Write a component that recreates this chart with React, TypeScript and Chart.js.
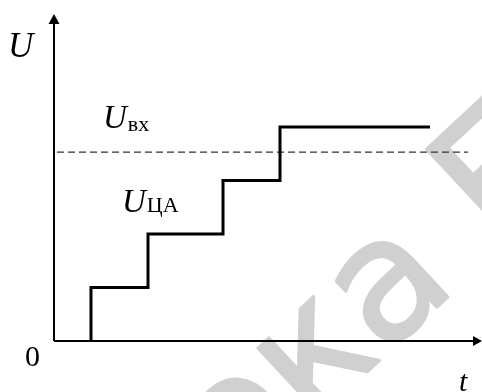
import React, { useEffect, useRef } from "react";
import { Chart, registerables } from "chart.js";

Chart.register(...registerables);

// ---- data (time in arbitrary units, voltage in quantisation steps) ----
const stepTimes = [3.7, 9.4, 16.9, 22.6];
const stepLevels = [1, 2, 3, 4];
const startLevel = 0;
const endTime = 37.6;
const inputLevel = 3.53;
const inputSpan = [0.3, 41.4];
const xMax = 42.8;
const yMax = 6.11;

const axisLabelY = "U";
const axisLabelX = "t";
const originLabel = "0";
const inputLabel = ["U", "вх"];
const dacLabel = ["U", "ЦА"];
const watermarkA = "Библиотека ";
const watermarkB = "БГУИР";

const stairPoints = [
  ...stepTimes.map((t, i) => ({ x: t, y: i === 0 ? startLevel : stepLevels[i - 1] })),
  { x: endTime, y: stepLevels[stepLevels.length - 1] },
];
const inputPoints = inputSpan.map((t) => ({ x: t, y: inputLevel }));

const SERIF = '"Liberation Serif", "Times New Roman", serif';

const decorPlugin = {
  id: "decor",
  beforeDraw(chart: any) {
    const ctx = chart.ctx;
    ctx.save();
    ctx.font = '168px "DejaVu Sans", sans-serif';
    ctx.fillStyle = "#d0d0d0";
    ctx.strokeStyle = "#d0d0d0";
    ctx.lineWidth = 3;
    ctx.lineJoin = "round";
    ctx.textBaseline = "alphabetic";
    ctx.textAlign = "left";
    ctx.translate(498, 250);
    ctx.rotate((-43 * Math.PI) / 180);
    const w = ctx.measureText(watermarkA).width;
    ctx.fillText(watermarkA, -w, 0);
    ctx.strokeText(watermarkA, -w, 0);
    ctx.fillText(watermarkB, 0, 0);
    ctx.strokeText(watermarkB, 0, 0);
    ctx.restore();
  },
  beforeDatasetsDraw(chart: any) {
    const { ctx } = chart;
    const xs = chart.scales.x;
    const ys = chart.scales.y;
    const x0 = xs.getPixelForValue(0);
    const y0 = ys.getPixelForValue(0);
    const top = ys.getPixelForValue(yMax);
    const right = xs.getPixelForValue(xMax);
    ctx.save();
    ctx.strokeStyle = "#000";
    ctx.fillStyle = "#000";
    ctx.lineWidth = 2;
    ctx.beginPath();
    ctx.moveTo(x0, y0);
    ctx.lineTo(x0, top + 9);
    ctx.moveTo(x0, y0);
    ctx.lineTo(right - 8, y0);
    ctx.stroke();
    // arrow heads
    ctx.beginPath();
    ctx.moveTo(x0, top);
    ctx.lineTo(x0 - 5.5, top + 10);
    ctx.lineTo(x0 + 5.5, top + 10);
    ctx.closePath();
    ctx.fill();
    ctx.beginPath();
    ctx.moveTo(right, y0);
    ctx.lineTo(right - 9, y0 - 5);
    ctx.lineTo(right - 9, y0 + 5);
    ctx.closePath();
    ctx.fill();
    ctx.restore();
  },
  afterDatasetsDraw(chart: any) {
    const { ctx } = chart;
    const xs = chart.scales.x;
    const ys = chart.scales.y;
    const x0 = xs.getPixelForValue(0);
    const y0 = ys.getPixelForValue(0);
    ctx.save();
    ctx.fillStyle = "#000";
    ctx.textBaseline = "alphabetic";
    ctx.textAlign = "left";
    // U (axis)
    ctx.font = `italic 35px ${SERIF}`;
    ctx.fillText(axisLabelY, x0 - 46, 57);
    // 0
    ctx.font = `30px ${SERIF}`;
    ctx.fillText(originLabel, x0 - 29, y0 + 25);
    // t
    ctx.font = `italic 30px ${SERIF}`;
    ctx.fillText(axisLabelX, 459, y0 + 50);
    // U_вх
    ctx.font = `italic 33px ${SERIF}`;
    ctx.fillText(inputLabel[0], 103, 128);
    const wU = ctx.measureText(inputLabel[0]).width;
    ctx.font = `22px ${SERIF}`;
    ctx.fillText(inputLabel[1], 103 + wU + 1, 131);
    // U_ЦА
    ctx.font = `italic 33px ${SERIF}`;
    ctx.fillText(dacLabel[0], 122, 212);
    ctx.font = `22px ${SERIF}`;
    ctx.fillText(dacLabel[1], 122 + wU + 1, 212);
    ctx.restore();
  },
};

export default function App() {
  const ref = useRef<HTMLCanvasElement | null>(null);
  useEffect(() => {
    if (!ref.current) return;
    const chart = new Chart(ref.current, {
      type: "line",
      data: {
        datasets: [
          {
            data: stairPoints,
            borderColor: "#000",
            borderWidth: 3,
            pointRadius: 0,
            stepped: "after",
            fill: false,
          },
          {
            data: inputPoints,
            borderColor: "#333",
            borderWidth: 1.3,
            borderDash: [7, 4],
            pointRadius: 0,
            fill: false,
          },
        ],
      },
      options: {
        responsive: false,
        animation: false,
        devicePixelRatio: 1,
        layout: { padding: { left: 54, right: 0, top: 14, bottom: 51 } },
        plugins: { legend: { display: false }, tooltip: { enabled: false } },
        events: [],
        scales: {
          x: { type: "linear", min: 0, max: xMax, display: false },
          y: { type: "linear", min: 0, max: yMax, display: false },
        },
      },
      plugins: [decorPlugin],
    });
    return () => chart.destroy();
  }, []);
  return (
    <div style={{ position: "absolute", left: 0, top: 0, width: 482, height: 392, background: "#fff" }}>
      <canvas ref={ref} width={482} height={392} />
    </div>
  );
}
